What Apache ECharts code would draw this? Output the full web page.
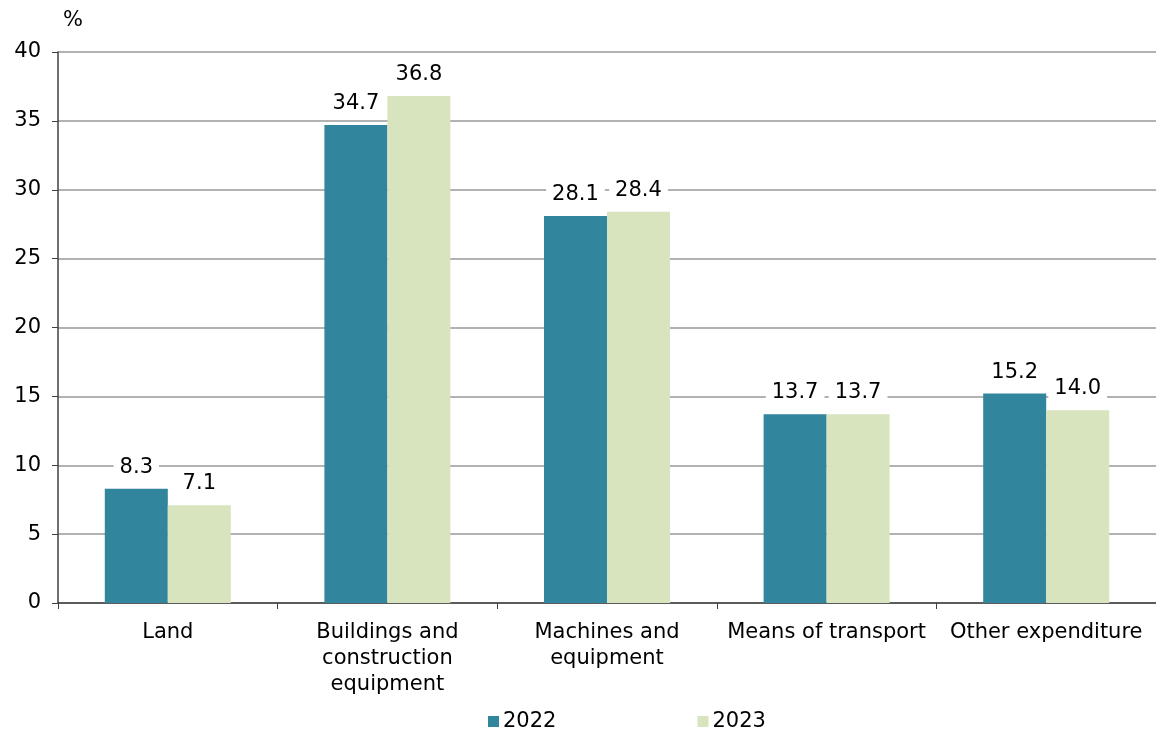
<!DOCTYPE html>
<html>
<head>
<meta charset="utf-8">
<script src="https://cdn.jsdelivr.net/npm/echarts@6/dist/echarts.min.js"></script>
<style>html,body{margin:0;padding:0;background:#fff;}#main{width:1156px;height:731px;}</style>
</head>
<body>
<div id="main"></div>
<script>
const categories = ['Land', 'Buildings and\nconstruction\nequipment', 'Machines and\nequipment', 'Means of transport', 'Other expenditure'];
const values2022 = [8.3, 34.7, 28.1, 13.7, 15.2];
const values2023 = [7.1, 36.8, 28.4, 13.7, 14.0];
const seriesNames = ['2022', '2023'];
const yTicks = { min: 0, max: 40, interval: 5 };

const font = 'DejaVu Sans, Verdana, sans-serif';
const fs = 21;
const chart = echarts.init(document.getElementById('main'));
const labelOpt = {
  show: true, position: 'top', distance: 9,
  formatter: p => p.value.toFixed(1),
  color: '#000', fontFamily: font, fontSize: fs,
  backgroundColor: '#fff', padding: [2, 6]
};
chart.setOption({
  animation: false,
  textStyle: { fontFamily: font },
  grid: { left: 58, top: 52, width: 1106, bottom: 128, containLabel: false },
  graphic: [{ type: 'text', left: 63, top: 10, style: { text: '%', fontSize: fs, fontFamily: font, fill: '#000' } }],
  legend: {
    left: 483, bottom: -6, itemWidth: 11, itemHeight: 11, itemGap: 141, icon: 'rect',
    textStyle: { fontSize: fs, color: '#000', fontFamily: font, padding: [0, 0, 0, -1] },
    data: seriesNames
  },
  xAxis: {
    type: 'category', data: categories,
    axisLine: { lineStyle: { color: '#404040', width: 1.5 } },
    axisTick: { show: true, length: 6, lineStyle: { color: '#404040' } },
    axisLabel: { color: '#000', fontSize: fs, fontFamily: font, lineHeight: 26, margin: 17, interval: 0 }
  },
  yAxis: {
    type: 'value', min: yTicks.min, max: yTicks.max, interval: yTicks.interval,
    axisLine: { show: true, lineStyle: { color: '#404040', width: 1.5 } },
    axisTick: { show: true, length: 6, lineStyle: { color: '#404040' } },
    axisLabel: { color: '#000', fontSize: fs, fontFamily: font, margin: 17 },
    splitLine: { lineStyle: { color: '#999999', width: 1.5 } }
  },
  series: [
    { name: seriesNames[0], type: 'bar', data: values2022, barWidth: 63, barGap: '0%', itemStyle: { color: '#31859C' }, label: labelOpt, z: 3 },
    { name: seriesNames[1], type: 'bar', data: values2023, barWidth: 63, barGap: '0%', itemStyle: { color: '#D7E4BD' }, label: labelOpt, z: 3 }
  ]
});
</script>
</body>
</html>
